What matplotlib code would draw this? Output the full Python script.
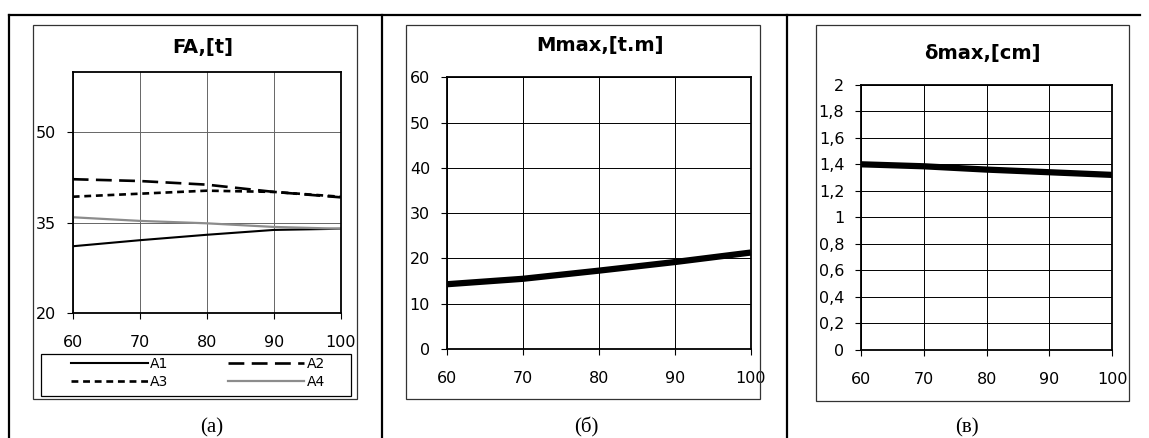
import matplotlib
matplotlib.use('Agg')
import matplotlib.pyplot as plt
from matplotlib.patches import Rectangle
from matplotlib.lines import Line2D

# dados
x = [60, 70, 80, 90, 100]
a1 = [31.1, 32.1, 33.0, 33.8, 34.0]
a2 = [42.2, 41.9, 41.3, 40.1, 39.2]
a3 = [39.3, 39.8, 40.3, 40.1, 39.3]
a4 = [35.9, 35.3, 34.9, 34.3, 34.0]
mmax = [14.3, 15.5, 17.3, 19.2, 21.3]
dmax = [1.40, 1.385, 1.36, 1.34, 1.32]

fa_ticks = [20, 35, 50]
m_ticks = [0, 10, 20, 30, 40, 50, 60]
d_ticks = [0, 0.2, 0.4, 0.6, 0.8, 1, 1.2, 1.4, 1.6, 1.8, 2]
d_labels = ['0', '0,2', '0,4', '0,6', '0,8', '1', '1,2', '1,4', '1,6', '1,8', '2']

titulos = ['FA,[t]', 'Mmax,[t.m]', 'δmax,[cm]']
legendas = ['(a)', '(б)', '(в)']

W, H = 1149, 438
plt.rcParams['font.family'] = ['DejaVu Sans']

fig = plt.figure(figsize=(W / 100, H / 100), dpi=100)


def caixa(x0, y0, x1, y1):
    return [x0 / W, 1 - y1 / H, (x1 - x0) / W, (y1 - y0) / H]


def fx(px):
    return px / W


def fy(py):
    return 1 - py / H


# linhas da tabela
for seg in [((9, 1140), (15, 15)), ((9, 9), (15, 438)), ((382, 382), (15, 438)), ((787, 787), (15, 438))]:
    fig.add_artist(Line2D([fx(seg[0][0]), fx(seg[0][1])], [fy(seg[1][0]), fy(seg[1][1])],
                          color='black', lw=1.6, transform=fig.transFigure))

# molduras dos gráficos
for (x0, y0, x1, y1) in [(33, 25, 357, 399), (406, 25, 760, 399), (816, 25, 1129, 401)]:
    fig.patches.append(Rectangle((fx(x0), fy(y1)), fx(x1) - fx(x0), fy(y0) - fy(y1),
                                 fill=False, edgecolor='#333333', lw=0.9, transform=fig.transFigure))


def estilo(ax, grid_cor):
    ax.set_xlim(60, 100)
    ax.set_xticks(x)
    ax.grid(True, color=grid_cor, lw=0.7)
    ax.set_axisbelow(True)
    for s in ax.spines.values():
        s.set_linewidth(1.3)
        s.set_color('black')
    ax.tick_params(axis='x', direction='out', length=4, width=0.8, pad=11.5, labelsize=11.5)
    ax.tick_params(axis='y', direction='out', length=4, width=0.8, pad=8, labelsize=11.5)


# (a)
ax1 = fig.add_axes(caixa(72.7, 71.7, 340.7, 313.3))
l1, = ax1.plot(x, a1, color='black', lw=1.5, label='A1')
l2, = ax1.plot(x, a2, color='black', lw=1.9, dashes=(6, 2.8), label='A2')
l3, = ax1.plot(x, a3, color='black', lw=1.9, dashes=(2.6, 1.8), label='A3')
l4, = ax1.plot(x, a4, color='#8c8c8c', lw=1.6, label='A4')
ax1.set_ylim(20, 60)
ax1.set_yticks(fa_ticks)
estilo(ax1, '#666666')
fig.patches.append(Rectangle((fx(41), fy(396)), fx(351) - fx(41), fy(354) - fy(396),
                             fill=False, edgecolor='black', lw=0.9, transform=fig.transFigure))
# ordem por linhas: A1 A2 / A3 A4
ax1.legend([l1, l3, l2, l4], ['A1', 'A3', 'A2', 'A4'], loc='center',
           bbox_to_anchor=(fx(198), fy(373)), bbox_transform=fig.transFigure,
           ncol=2, frameon=False, fontsize=10, handlelength=5.5, handletextpad=0.15,
           columnspacing=4.3, labelspacing=0.3, borderpad=0)

# (б)
ax2 = fig.add_axes(caixa(446.7, 77.3, 750.7, 349))
ax2.plot(x, mmax, color='black', lw=4.5, solid_capstyle='butt')
ax2.set_ylim(0, 60)
ax2.set_yticks(m_ticks)
estilo(ax2, 'black')

# (в)
ax3 = fig.add_axes(caixa(861, 84.7, 1112.3, 350))
ax3.plot(x, dmax, color='black', lw=4.5, solid_capstyle='butt')
ax3.set_ylim(0, 2)
ax3.set_yticks(d_ticks)
ax3.set_yticklabels(d_labels)
estilo(ax3, 'black')

for ax in (ax1, ax2, ax3):
    for lbl in ax.get_xticklabels() + ax.get_yticklabels():
        lbl.set_clip_on(False)

# títulos e legendas (a), (б), (в)
for txt, (px, py) in zip(titulos, [(203, 47), (600, 46), (982, 53)]):
    fig.text(fx(px), fy(py), txt, ha='center', va='center', fontsize=14, fontweight='bold')
for txt, (px, py) in zip(legendas, [(212, 428), (586, 427), (967, 428)]):
    fig.text(fx(px), fy(py), txt, ha='center', va='center', fontsize=15,
             family=['Liberation Serif', 'DejaVu Serif'])

plt.savefig('out.png', dpi=100)
